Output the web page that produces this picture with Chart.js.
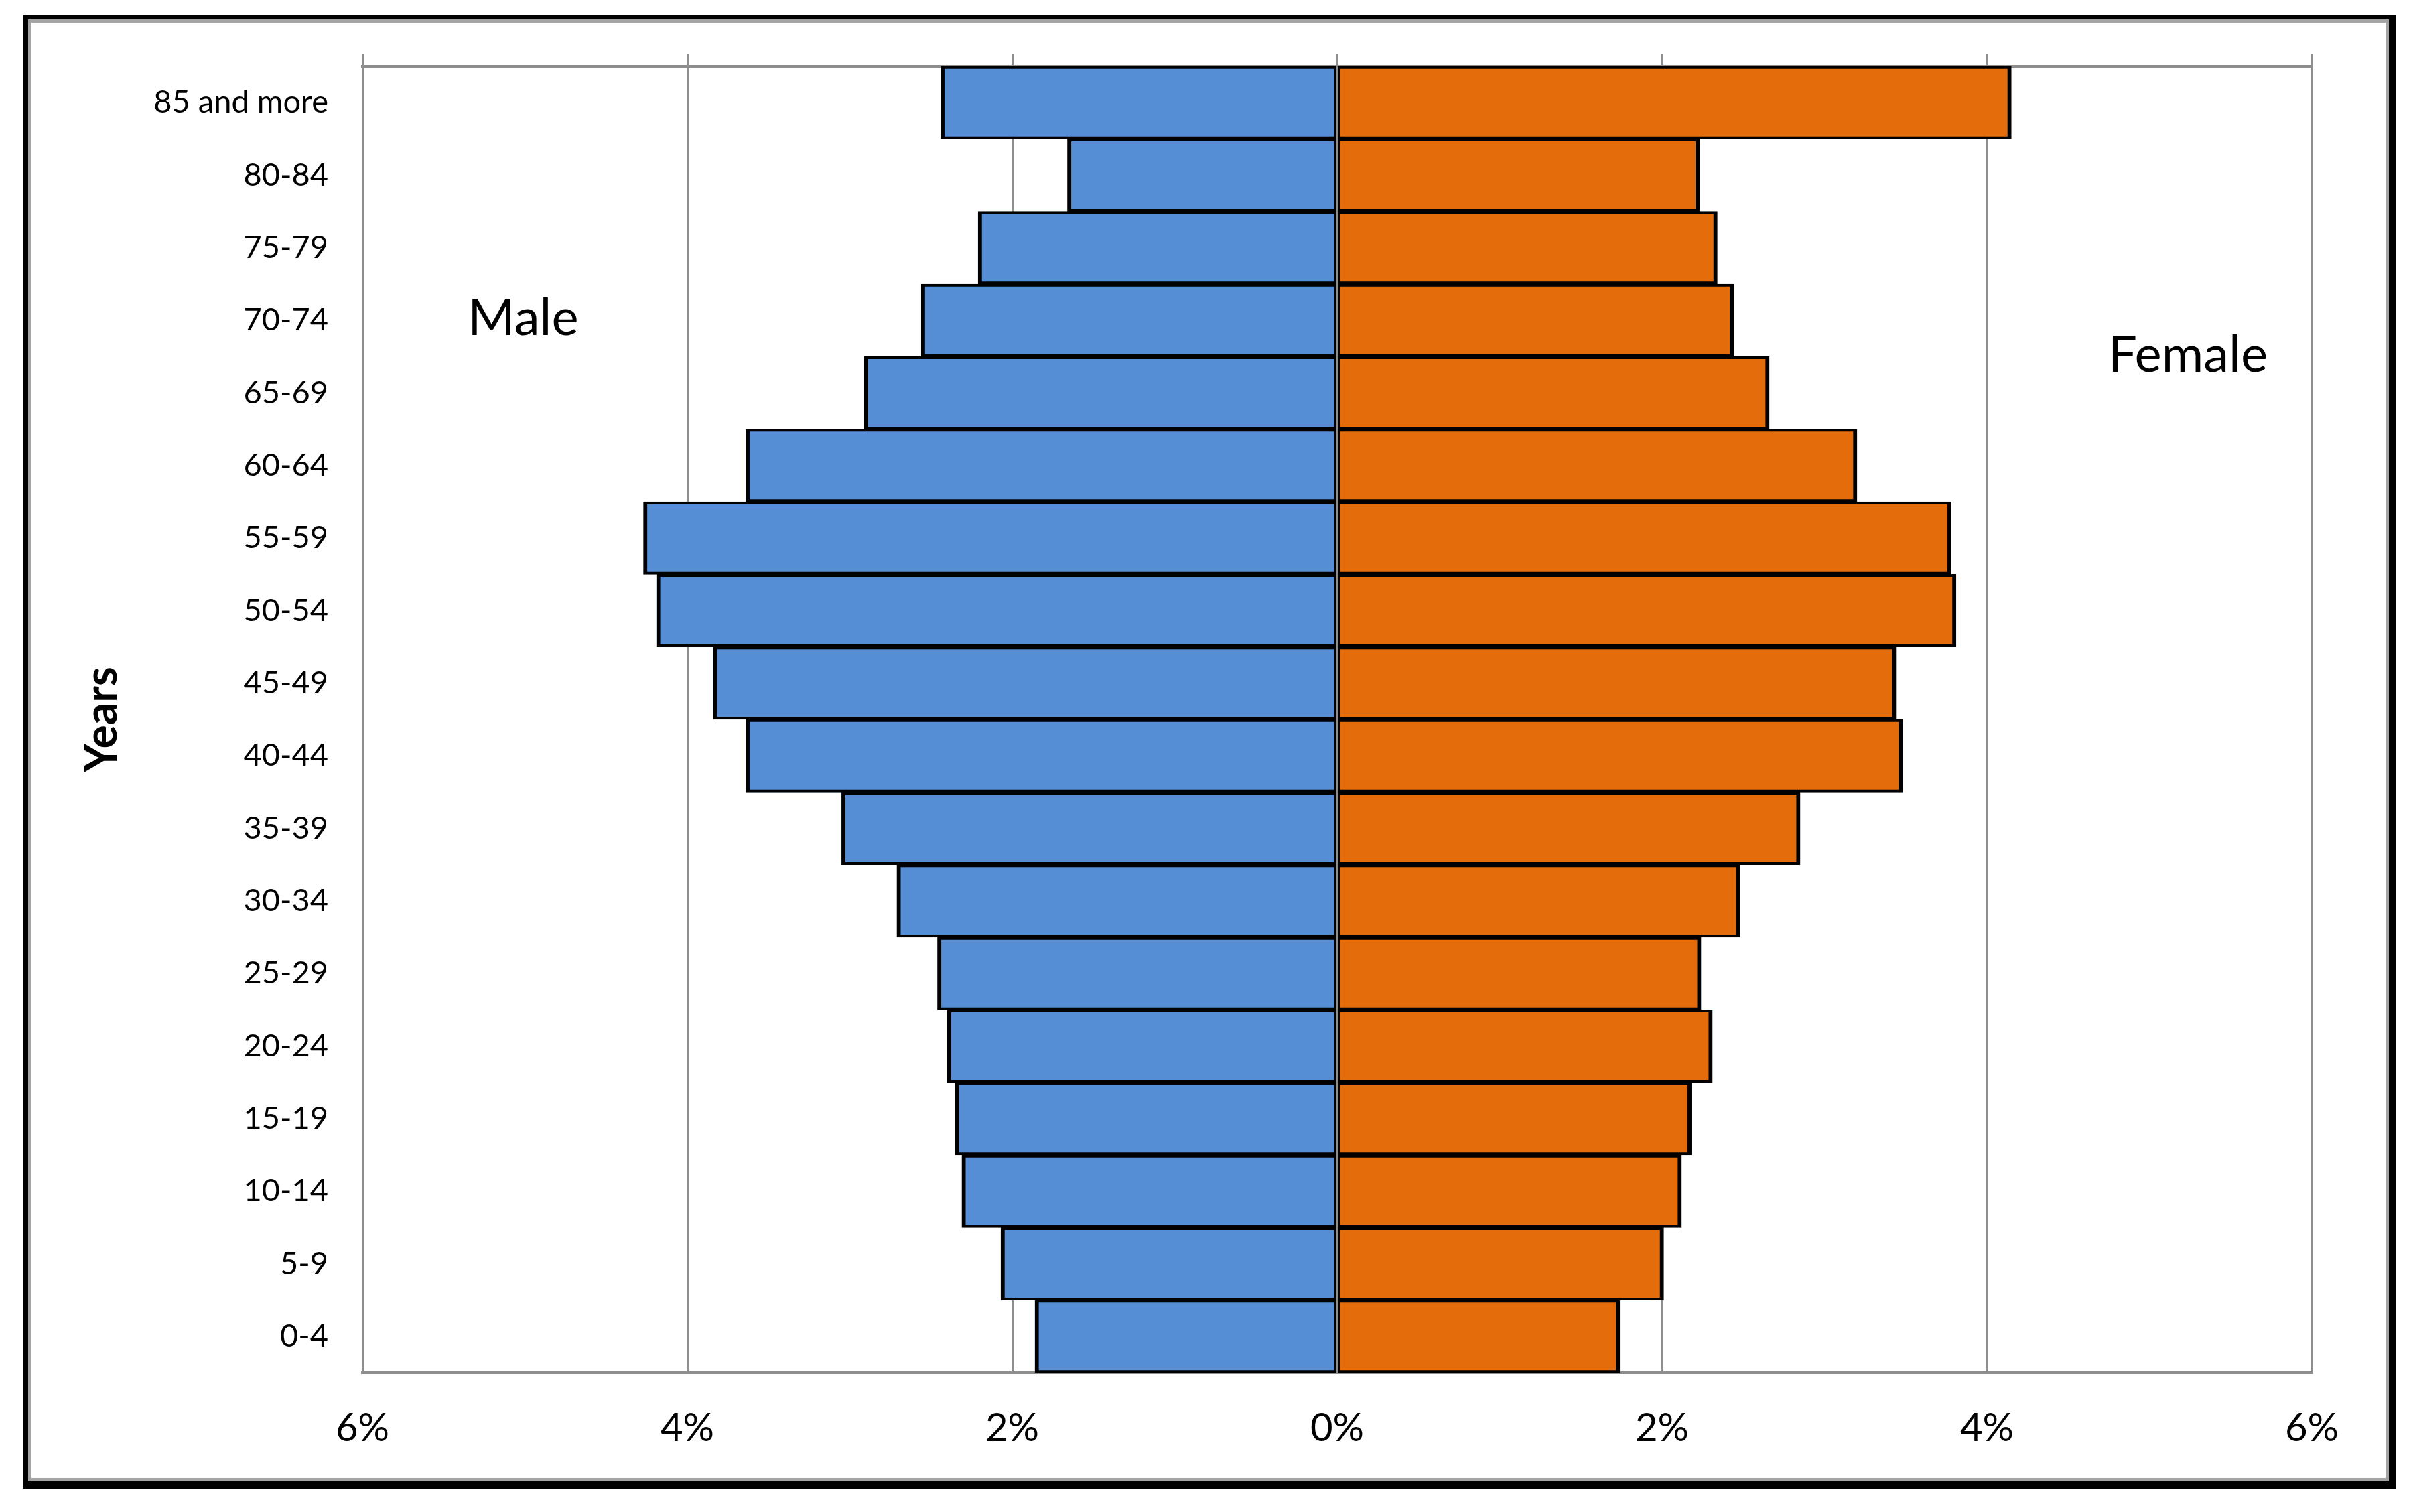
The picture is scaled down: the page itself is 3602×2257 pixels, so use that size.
<!DOCTYPE html>
<html>
<head>
<meta charset="utf-8">
<title>Population pyramid</title>
<script src="https://cdn.jsdelivr.net/npm/chart.js@4.4.1/dist/chart.umd.min.js"></script>
<style>
  html, body { margin: 0; padding: 0; background: #fff; }
  body { width: 3602px; height: 2257px; position: relative; overflow: hidden; }
  /* framed box behind the canvas, thicker black on right/bottom like a shadow */
  #frame {
    position: absolute; left: 34px; top: 22px; width: 3542px; height: 2200px;
    box-sizing: border-box; background: #000;
    padding: 7px 10px 11px 8px;
  }
  #frame .inner {
    width: 100%; height: 100%; box-sizing: border-box;
    border: 5px solid #a3a3a3; background: #fff;
  }
  #chart { position: absolute; left: 0; top: 0; }
</style>
</head>
<body>
<div id="frame"><div class="inner"></div></div>
<canvas id="chart" width="3602" height="2257"></canvas>
<script>
// ---------------------------------------------------------------------------
// DATA (% of total population)
// ---------------------------------------------------------------------------
const ageGroups = [
  '85 and more', '80-84', '75-79', '70-74', '65-69', '60-64', '55-59', '50-54', '45-49',
  '40-44', '35-39', '30-34', '25-29', '20-24', '15-19', '10-14', '5-9', '0-4'
];
const malePct = [
  2.44, 1.66, 2.21, 2.56, 2.91, 3.64, 4.27, 4.19, 3.84,
  3.64, 3.05, 2.71, 2.46, 2.40, 2.35, 2.31, 2.07, 1.86
];
const femalePct = [
  4.15, 2.23, 2.34, 2.44, 2.66, 3.20, 3.78, 3.81, 3.44,
  3.48, 2.85, 2.48, 2.24, 2.31, 2.18, 2.12, 2.01, 1.74
];
const xTicks = [-6, -4, -2, 0, 2, 4, 6];

const GRID = '#8e8e8e';
const FONT = 'Lato, "Open Sans", sans-serif';

Chart.defaults.font.family = FONT;
Chart.defaults.color = '#000';

/**
 * Side captions ("Male" / "Female") drawn over the plot
 */
const sideLabels = {
  id: 'sideLabels',
  afterDatasetsDraw(chart) {
    const ctx = chart.ctx;
    ctx.save();
    ctx.fillStyle = '#000';
    ctx.font = '76px ' + FONT;
    ctx.textAlign = 'center';
    ctx.textBaseline = 'alphabetic';
    ctx.fillText('Male', 781, 500);
    ctx.fillText('Female', 3266, 555);
    ctx.restore();
  }
};

new Chart(document.getElementById('chart').getContext('2d'), {
  type: 'bar',
  data: {
    labels: ageGroups,
    datasets: [
      {
        label: 'Male',
        data: malePct.map(v => -v),
        backgroundColor: '#558ed5',
        borderColor: '#000',
        borderWidth: { top: 4, bottom: 4, left: 6, right: 3 },
        borderSkipped: false,
        barPercentage: 1,
        categoryPercentage: 1
      },
      {
        label: 'Female',
        data: femalePct,
        backgroundColor: '#e46c0a',
        borderColor: '#000',
        borderWidth: { top: 4, bottom: 4, left: 3, right: 6 },
        borderSkipped: false,
        barPercentage: 1,
        categoryPercentage: 1
      }
    ]
  },
  options: {
    indexAxis: 'y',
    responsive: false,
    devicePixelRatio: 1,
    animation: false,
    layout: { padding: { left: 0, top: 80, right: 151, bottom: 0 } },
    plugins: {
      legend: { display: false },
      title: { display: false },
      tooltip: { enabled: false }
    },
    scales: {
      x: {
        type: 'linear',
        position: 'bottom',
        stacked: true,
        min: -6,
        max: 6,
        afterBuildTicks: scale => { scale.ticks = xTicks.map(v => ({ value: v })); },
        ticks: {
          padding: 48,
          font: { size: 58 },
          callback: v => Math.abs(v) + '%'
        },
        grid: { color: GRID, lineWidth: 3, drawTicks: false },
        border: { display: true, color: GRID, width: 4 },
        afterFit: scale => { scale.height = 208; }
      },
      xTop: {
        type: 'linear',
        position: 'top',
        min: -6,
        max: 6,
        afterBuildTicks: scale => { scale.ticks = xTicks.map(v => ({ value: v })); },
        ticks: { display: false },
        grid: { color: GRID, lineWidth: 3, drawOnChartArea: false, drawTicks: true, tickLength: 19 },
        border: { display: true, color: GRID, width: 4 }
      },
      y: {
        stacked: true,
        grid: { display: false, drawTicks: false },
        border: { display: false },
        ticks: { padding: 51, font: { size: 47 } },
        title: {
          display: true,
          text: 'Years',
          font: { size: 66, weight: 'bold' },
          padding: { top: 113, bottom: 0 }
        },
        afterFit: scale => { scale.width = 541; }
      }
    }
  },
  plugins: [sideLabels]
});
</script>
</body>
</html>
